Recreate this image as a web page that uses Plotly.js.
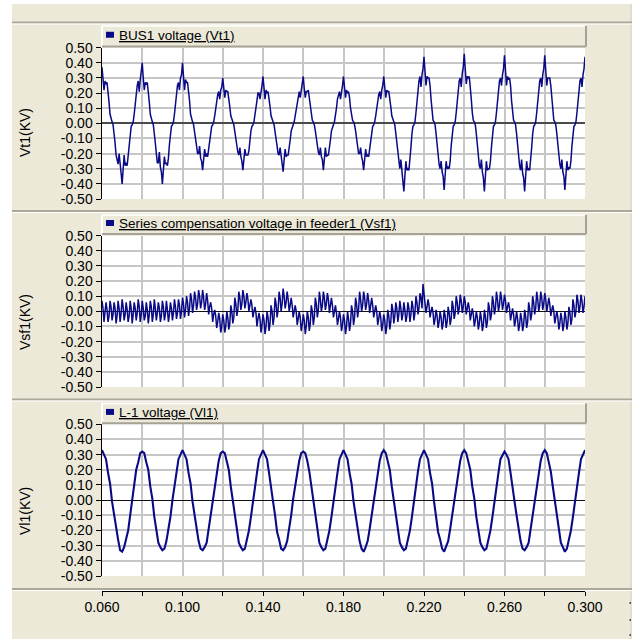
<!DOCTYPE html>
<html>
<head>
<meta charset="utf-8">
<script src="https://cdn.plot.ly/plotly-3.0.1.min.js"></script>
<style>html,body{margin:0;padding:0;background:#fff;}#chart{width:632px;height:639px;}</style>
</head>
<body>
<div id="chart"></div>
<script>
// ---------------- DATA ----------------
// sampling start (s) and steps used by the recorder
const T_START = 0.06;
const STEP_FINE = 0.0005;   // Vt1, Vsf1
const STEP_COARSE = 0.001;  // Vl1

// BUS1 voltage (Vt1) [kV], 0.060 .. 0.300 s every 0.5 ms
const vt1 = [
 0.37,0.30,0.22,0.28,0.26,0.27,0.22,0.14,0.06,0.02,
 0.01,-0.01,-0.06,-0.13,-0.21,-0.25,-0.27,-0.20,-0.30,-0.33,-0.40,-0.30,-0.21,-0.28,-0.26,-0.28,-0.22,-0.14,-0.06,-0.02,
 -0.01,0.01,0.06,0.13,0.20,0.25,0.28,0.21,0.29,0.33,0.40,0.30,0.22,0.27,0.26,0.27,0.22,0.14,0.06,0.02,
 0.01,-0.01,-0.06,-0.13,-0.20,-0.26,-0.26,-0.19,-0.29,-0.32,-0.40,-0.31,-0.22,-0.27,-0.26,-0.28,-0.23,-0.14,-0.06,-0.02,
 -0.01,0.01,0.06,0.13,0.20,0.25,0.27,0.22,0.30,0.32,0.40,0.31,0.22,0.29,0.27,0.27,0.22,0.15,0.06,0.02,
 0.01,-0.01,-0.05,-0.10,-0.15,-0.20,-0.20,-0.15,-0.23,-0.25,-0.31,-0.24,-0.17,-0.22,-0.20,-0.22,-0.17,-0.11,-0.05,-0.02,
 -0.01,0.01,0.05,0.10,0.15,0.19,0.21,0.16,0.22,0.24,0.30,0.23,0.17,0.22,0.21,0.21,0.17,0.11,0.05,0.02,
 0.01,-0.01,-0.05,-0.10,-0.16,-0.19,-0.21,-0.16,-0.22,-0.25,-0.31,-0.23,-0.17,-0.21,-0.21,-0.21,-0.18,-0.10,-0.05,-0.02,
 -0.01,0.01,0.05,0.10,0.15,0.20,0.20,0.16,0.23,0.25,0.31,0.24,0.16,0.22,0.20,0.21,0.17,0.11,0.05,0.02,
 0.01,-0.01,-0.05,-0.10,-0.15,-0.20,-0.21,-0.16,-0.23,-0.26,-0.32,-0.24,-0.17,-0.22,-0.21,-0.21,-0.17,-0.11,-0.05,-0.02,
 -0.01,0.01,0.05,0.09,0.15,0.19,0.21,0.17,0.22,0.25,0.31,0.23,0.17,0.21,0.21,0.22,0.17,0.11,0.05,0.02,
 0.01,-0.01,-0.05,-0.10,-0.15,-0.19,-0.21,-0.16,-0.22,-0.24,-0.31,-0.24,-0.16,-0.22,-0.21,-0.21,-0.17,-0.11,-0.05,-0.02,
 -0.01,0.01,0.05,0.10,0.16,0.20,0.21,0.16,0.23,0.25,0.31,0.24,0.17,0.22,0.20,0.21,0.17,0.10,0.05,0.02,
 0.01,-0.01,-0.05,-0.10,-0.15,-0.20,-0.20,-0.16,-0.22,-0.25,-0.31,-0.23,-0.17,-0.22,-0.21,-0.22,-0.17,-0.11,-0.05,-0.02,
 -0.01,0.01,0.05,0.10,0.15,0.19,0.21,0.16,0.22,0.25,0.31,0.24,0.17,0.22,0.21,0.21,0.17,0.11,0.05,0.02,
 0.01,-0.01,-0.07,-0.15,-0.22,-0.28,-0.30,-0.24,-0.32,-0.36,-0.45,-0.35,-0.25,-0.31,-0.30,-0.31,-0.25,-0.16,-0.07,-0.02,
 -0.01,0.01,0.07,0.15,0.22,0.28,0.31,0.24,0.32,0.36,0.44,0.34,0.25,0.31,0.30,0.30,0.25,0.16,0.07,0.02,
 0.01,-0.01,-0.07,-0.15,-0.22,-0.27,-0.30,-0.25,-0.32,-0.35,-0.44,-0.34,-0.25,-0.30,-0.29,-0.30,-0.25,-0.15,-0.07,-0.02,
 -0.01,0.01,0.07,0.16,0.23,0.28,0.30,0.24,0.33,0.37,0.46,0.35,0.26,0.31,0.30,0.31,0.25,0.16,0.07,0.02,
 0.01,-0.01,-0.07,-0.15,-0.22,-0.28,-0.30,-0.24,-0.32,-0.36,-0.45,-0.35,-0.25,-0.31,-0.30,-0.30,-0.25,-0.16,-0.07,-0.02,
 -0.01,0.01,0.07,0.15,0.22,0.28,0.30,0.25,0.32,0.36,0.45,0.34,0.25,0.31,0.29,0.30,0.25,0.15,0.07,0.02,
 0.01,-0.01,-0.07,-0.15,-0.22,-0.28,-0.31,-0.24,-0.33,-0.36,-0.45,-0.35,-0.25,-0.31,-0.30,-0.31,-0.25,-0.16,-0.07,-0.02,
 -0.01,0.01,0.07,0.15,0.22,0.28,0.30,0.24,0.32,0.36,0.45,0.35,0.25,0.30,0.30,0.30,0.25,0.16,0.07,0.02,
 0.01,-0.01,-0.07,-0.15,-0.22,-0.27,-0.30,-0.24,-0.32,-0.35,-0.44,-0.34,-0.25,-0.31,-0.29,-0.30,-0.25,-0.15,-0.07,-0.02,
 -0.01,0.01,0.07,0.15,0.22,0.28,0.30,0.24,0.32,0.36,0.44
];

// Series compensation voltage in feeder1 (Vsf1) [kV], 0.060 .. 0.300 s every 0.5 ms
const vsf1 = [
 0.07,0.02,-0.07,-0.02, 0.06,0.01,-0.07,-0.03, 0.07,0.03,-0.06,-0.02, 0.06,0.02,-0.08,-0.03,
 0.07,0.02,-0.07,-0.01, 0.08,0.03,-0.06,-0.02, 0.06,0.01,-0.07,-0.03, 0.07,0.02,-0.08,-0.02,
 0.06,0.02,-0.06,-0.01, 0.08,0.03,-0.07,-0.02, 0.07,0.02,-0.06,-0.03, 0.06,0.01,-0.08,-0.02,
 0.07,0.03,-0.07,-0.02, 0.08,0.02,-0.06,-0.01, 0.06,0.02,-0.07,-0.03, 0.07,0.03,-0.06,-0.02,
 0.07,0.01,-0.07,-0.02, 0.06,0.02,-0.06,-0.01, 0.08,0.03,-0.05,-0.01, 0.08,0.04,-0.05,0.00,
 0.09,0.05,-0.04,0.01, 0.10,0.06,-0.03,0.02, 0.12,0.08,-0.01,0.04, 0.13,0.09,0.01,0.05,
 0.14,0.10,0.02,0.06, 0.14,0.09,0.01,0.05, 0.12,0.07,-0.02,0.03, 0.06,0.02,-0.07,-0.02,
 0.01,-0.03,-0.11,-0.07, -0.01,-0.05,-0.14,-0.10, -0.02,-0.06,-0.14,-0.10, 0.00,-0.04,-0.12,-0.08,
 0.04,0.00,-0.08,-0.04, 0.09,0.05,-0.03,0.01, 0.13,0.09,0.01,0.05, 0.14,0.10,0.02,0.06,
 0.12,0.08,0.00,0.04, 0.08,0.04,-0.04,0.00, 0.03,-0.01,-0.10,-0.05, -0.01,-0.05,-0.14,-0.09,
 -0.02,-0.06,-0.15,-0.10, 0.00,-0.04,-0.13,-0.08, 0.04,0.00,-0.09,-0.04, 0.09,0.05,-0.04,0.01,
 0.13,0.09,0.00,0.05, 0.15,0.10,0.02,0.06, 0.13,0.08,0.00,0.04, 0.09,0.04,-0.04,0.00,
 0.04,0.00,-0.09,-0.05, 0.00,-0.04,-0.13,-0.09, -0.02,-0.06,-0.15,-0.10, 0.00,-0.04,-0.13,-0.08,
 0.04,0.00,-0.09,-0.04, 0.09,0.05,-0.04,0.01, 0.13,0.08,0.00,0.04, 0.13,0.09,0.01,0.05,
 0.12,0.08,-0.01,0.04, 0.09,0.04,-0.04,0.00, 0.04,-0.01,-0.09,-0.05, 0.00,-0.04,-0.13,-0.09,
 -0.02,-0.06,-0.15,-0.10, 0.00,-0.05,-0.13,-0.08, 0.04,0.00,-0.09,-0.04, 0.09,0.05,-0.04,0.01,
 0.13,0.08,0.00,0.04, 0.13,0.09,0.01,0.05, 0.12,0.07,-0.01,0.04, 0.09,0.04,-0.04,0.00,
 0.04,0.00,-0.09,-0.05, 0.00,-0.04,-0.13,-0.09, -0.02,-0.06,-0.15,-0.10, 0.01,-0.03,-0.12,-0.07,
 0.05,0.01,-0.08,-0.03, 0.06,0.02,-0.07,-0.02, 0.07,0.02,-0.06,-0.02, 0.06,0.01,-0.07,-0.03,
 0.06,0.02,-0.07,-0.02, 0.07,0.03,-0.06,-0.01, 0.10,0.06,-0.02,0.02, 0.12,0.09,0.02,0.18,
 0.10,0.07,-0.01,0.03, 0.08,0.04,-0.04,0.00, 0.03,-0.01,-0.09,-0.05, 0.01,-0.03,-0.11,-0.07,
 0.00,-0.04,-0.12,-0.08, 0.01,-0.03,-0.11,-0.07, 0.03,-0.01,-0.09,-0.05, 0.07,0.03,-0.05,-0.01,
 0.10,0.06,-0.02,0.02, 0.11,0.07,-0.01,0.03, 0.10,0.06,-0.02,0.02, 0.06,0.02,-0.06,-0.02,
 0.02,-0.02,-0.10,-0.06, 0.00,-0.04,-0.12,-0.08, 0.00,-0.05,-0.13,-0.09, 0.01,-0.03,-0.11,-0.07,
 0.06,0.02,-0.06,-0.02, 0.10,0.06,-0.02,0.02, 0.13,0.08,0.00,0.04, 0.13,0.09,0.01,0.05,
 0.11,0.07,-0.01,0.03, 0.06,0.02,-0.06,-0.02, 0.02,-0.02,-0.10,-0.06, 0.00,-0.05,-0.13,-0.09,
 -0.01,-0.05,-0.13,-0.09, 0.01,-0.03,-0.11,-0.07, 0.06,0.02,-0.06,-0.02, 0.10,0.06,-0.02,0.02,
 0.13,0.08,0.00,0.04, 0.13,0.09,0.01,0.05, 0.12,0.08,0.00,0.04, 0.09,0.05,-0.03,0.01,
 0.04,0.00,-0.08,-0.04, 0.00,-0.04,-0.12,-0.08, -0.01,-0.05,-0.13,-0.09, 0.00,-0.04,-0.12,-0.08,
 0.03,-0.01,-0.09,-0.05, 0.08,0.04,-0.04,0.00, 0.11,0.07,-0.01,0.03, 0.11,0.07,-0.01,0.03,
 0.10
];

// L-1 voltage (Vl1) [kV], 0.060 .. 0.300 s every 1 ms
const vl1 = [
 0.33,0.30,0.27,0.18,0.11,-0.01,-0.10,-0.20,-0.26,-0.33,-0.34,-0.31,-0.26,-0.20,-0.10,0.01,0.09,0.20,0.25,0.31,
 0.32,0.31,0.25,0.20,0.09,0.01,-0.11,-0.19,-0.28,-0.31,-0.33,-0.32,-0.27,-0.19,-0.11,0.00,0.11,0.18,0.27,0.30,
 0.33,0.30,0.27,0.18,0.11,-0.01,-0.10,-0.20,-0.27,-0.32,-0.33,-0.31,-0.28,-0.19,-0.10,0.01,0.09,0.20,0.26,0.31,
 0.32,0.31,0.25,0.20,0.09,0.00,-0.11,-0.19,-0.28,-0.31,-0.33,-0.32,-0.26,-0.20,-0.11,0.00,0.11,0.18,0.27,0.30,
 0.33,0.30,0.27,0.18,0.10,-0.01,-0.10,-0.21,-0.26,-0.32,-0.33,-0.31,-0.27,-0.19,-0.10,0.01,0.10,0.19,0.26,0.31,
 0.32,0.31,0.26,0.19,0.09,0.01,-0.11,-0.19,-0.28,-0.31,-0.33,-0.32,-0.26,-0.20,-0.11,0.00,0.11,0.18,0.27,0.30,
 0.33,0.30,0.27,0.18,0.11,-0.01,-0.10,-0.20,-0.27,-0.32,-0.34,-0.31,-0.27,-0.19,-0.10,0.01,0.09,0.20,0.26,0.31,
 0.33,0.31,0.25,0.20,0.09,0.00,-0.11,-0.19,-0.28,-0.31,-0.33,-0.32,-0.26,-0.20,-0.11,0.00,0.10,0.19,0.27,0.30,
 0.33,0.30,0.27,0.18,0.11,-0.01,-0.10,-0.21,-0.26,-0.32,-0.34,-0.31,-0.27,-0.19,-0.10,0.01,0.09,0.20,0.26,0.31,
 0.33,0.31,0.25,0.20,0.09,0.01,-0.11,-0.19,-0.28,-0.31,-0.33,-0.32,-0.26,-0.20,-0.11,0.00,0.11,0.18,0.27,0.30,
 0.32,0.30,0.27,0.18,0.10,-0.01,-0.10,-0.20,-0.27,-0.32,-0.33,-0.31,-0.28,-0.19,-0.10,0.01,0.10,0.19,0.26,0.31,
 0.33,0.31,0.25,0.19,0.09,0.00,-0.11,-0.19,-0.28,-0.31,-0.34,-0.32,-0.26,-0.20,-0.11,0.00,0.11,0.18,0.27,0.30,
 0.33
];

// axis ticks and labels
const xTickVals = [0.06,0.08,0.10,0.12,0.14,0.16,0.18,0.20,0.22,0.24,0.26,0.28,0.30];
const xTickText = ['0.060','','0.100','','0.140','','0.180','','0.220','','0.260','','0.300'];
const yTickVals = [0.5,0.4,0.3,0.2,0.1,0,-0.1,-0.2,-0.3,-0.4,-0.5];
const yTickText = ['0.50','0.40','0.30','0.20','0.10','0.00','-0.10','-0.20','-0.30','-0.40','-0.50'];

const seriesNames = ['BUS1 voltage (Vt1)', 'Series compensation voltage in feeder1 (Vsf1)', 'L-1 voltage (Vl1)'];
const axisTitles = ['Vt1(KV)', 'Vsf1(KV)', 'Vl1(KV)'];

// ---------------- BUILD ----------------
function timeGrid(n, step) {
  const t = [];
  for (let i = 0; i < n; i++) t.push(+(T_START + i * step).toFixed(5));
  return t;
}
const tFine = timeGrid(vt1.length, STEP_FINE);
const tFine2 = timeGrid(vsf1.length, STEP_FINE);
const tCoarse = timeGrid(vl1.length, STEP_COARSE);

const W = 632, H = 639;
const px = x => x / W;
const py = y => 1 - y / H;

const NAVY = '#0a0a86';
const BEIGE = '#ece9d8';
const GRID = '#c6c6c6';
const FONT = 'Arial, "Liberation Sans", sans-serif';

const traces = [
  {x: tFine, y: vt1, xaxis: 'x', yaxis: 'y', type: 'scatter', mode: 'lines', line: {color: NAVY, width: 1.5}, name: seriesNames[0], showlegend: false, hoverinfo: 'skip'},
  {x: tFine2, y: vsf1, xaxis: 'x2', yaxis: 'y2', type: 'scatter', mode: 'lines', line: {color: NAVY, width: 1.5}, name: seriesNames[1], showlegend: false, hoverinfo: 'skip'},
  {x: tCoarse, y: vl1, xaxis: 'x3', yaxis: 'y3', type: 'scatter', mode: 'lines', line: {color: NAVY, width: 2.1}, name: seriesNames[2], showlegend: false, hoverinfo: 'skip'}
];

// panel pixel geometry: [plotTop, plotBottom, legendTop, legendBottom, titleCenterY]
const panels = [
  [47.7, 199, 26, 46.5, 133],
  [235.7, 387, 215, 234, 322],
  [424.3, 576, 403.5, 423.3, 511]
];
const X_LEFT = 102, X_RIGHT = 585;

function yAxis(i, anchor) {
  return {
    domain: [py(panels[i][1]), py(panels[i][0])],
    anchor: anchor,
    range: [-0.5, 0.5],
    tickmode: 'array', tickvals: yTickVals, ticktext: yTickText,
    showgrid: true, gridcolor: GRID, gridwidth: 2,
    zeroline: true, zerolinecolor: i === 0 ? '#4a4a4a' : '#111111', zerolinewidth: i === 0 ? 2 : 1.3,
    showline: true, linecolor: '#000', linewidth: 1.5,
    ticks: 'outside', ticklen: 5, tickcolor: '#000', tickwidth: 1,
    tickfont: {family: FONT, size: 14, color: '#000'},
    fixedrange: true
  };
}
function xAxis(anchor, showLabels) {
  const a = {
    domain: [px(X_LEFT), px(X_RIGHT)],
    anchor: anchor,
    range: [0.06, 0.30],
    tickmode: 'array', tickvals: xTickVals, ticktext: xTickText,
    showgrid: true, gridcolor: GRID, gridwidth: 2,
    zeroline: false,
    showticklabels: false, ticks: '', showline: false,
    fixedrange: true
  };
  if (showLabels) {
    a.anchor = 'free';
    a.position = py(590.5);
    a.showticklabels = true;
    a.ticks = 'outside'; a.ticklen = 4; a.tickcolor = '#000';
    a.showline = true; a.linecolor = '#000'; a.linewidth = 1;
    a.tickfont = {family: FONT, size: 14, color: '#000'};
  }
  return a;
}

const shapes = [];
const annotations = [];
// white outer margins
shapes.push({type: 'rect', xref: 'paper', yref: 'paper', x0: 0, x1: px(12), y0: 0, y1: 1, fillcolor: '#fff', line: {width: 0}, layer: 'below'});
shapes.push({type: 'rect', xref: 'paper', yref: 'paper', x0: 0, x1: 1, y0: py(4), y1: 1, fillcolor: '#fff', line: {width: 0}, layer: 'below'});
shapes.push({type: 'line', xref: 'paper', yref: 'paper', x0: px(631), x1: px(631), y0: py(4), y1: 0, line: {color: '#d6d2c2', width: 1}});
// horizontal separators (3D)
[22.5, 211, 399.5, 589].forEach(y => {
  shapes.push({type: 'line', xref: 'paper', yref: 'paper', x0: px(12), x1: 1, y0: py(y), y1: py(y), line: {color: '#aca899', width: 2}});
  shapes.push({type: 'line', xref: 'paper', yref: 'paper', x0: px(12), x1: 1, y0: py(y + 1.5), y1: py(y + 1.5), line: {color: '#ffffff', width: 1}});
});
// legend header bars
panels.forEach((p, i) => {
  const top = p[2], bot = p[3];
  shapes.push({type: 'line', xref: 'paper', yref: 'paper', x0: px(X_LEFT), x1: px(X_RIGHT), y0: py(top), y1: py(top), line: {color: '#ffffff', width: 1.5}});
  shapes.push({type: 'line', xref: 'paper', yref: 'paper', x0: px(X_LEFT), x1: px(X_LEFT), y0: py(top), y1: py(p[0]), line: {color: '#ffffff', width: 2}});
  shapes.push({type: 'line', xref: 'paper', yref: 'paper', x0: px(X_LEFT), x1: px(X_RIGHT + 1), y0: py(bot), y1: py(bot), line: {color: '#a6a296', width: 2}});
  shapes.push({type: 'line', xref: 'paper', yref: 'paper', x0: px(X_RIGHT + 1), x1: px(X_RIGHT + 1), y0: py(top), y1: py(bot), line: {color: '#a6a296', width: 2}});
  const mid = (top + bot) / 2;
  shapes.push({type: 'rect', xref: 'paper', yref: 'paper', x0: px(106), x1: px(114), y0: py(mid - 4.5), y1: py(mid + 1.5), fillcolor: NAVY, line: {width: 0}});
  annotations.push({xref: 'paper', yref: 'paper', x: px(117), y: py(mid - 0.5), xanchor: 'left', yanchor: 'middle', showarrow: false,
    text: '<u>' + seriesNames[i] + '</u>', font: {family: FONT, size: 13.5, color: '#000'}});
  annotations.push({xref: 'paper', yref: 'paper', x: px(25), y: py(p[4]), xanchor: 'center', yanchor: 'middle', showarrow: false,
    textangle: -90, text: axisTitles[i], font: {family: FONT, size: 14, color: '#000'}});
});
// small dots at bottom-right
[603, 620, 635].forEach(y => {
  shapes.push({type: 'rect', xref: 'paper', yref: 'paper', x0: px(629.5), x1: px(631), y0: py(y + 0.75), y1: py(y - 0.75), fillcolor: '#222', line: {width: 0}});
});

const layout = {
  width: W, height: H,
  margin: {l: 0, r: 0, t: 0, b: 0, pad: 0},
  paper_bgcolor: BEIGE,
  plot_bgcolor: '#ffffff',
  showlegend: false,
  font: {family: FONT, size: 14, color: '#000'},
  xaxis: xAxis('y', false),
  xaxis2: xAxis('y2', false),
  xaxis3: xAxis('y3', true),
  yaxis: yAxis(0, 'x'),
  yaxis2: yAxis(1, 'x2'),
  yaxis3: yAxis(2, 'x3'),
  shapes: shapes,
  annotations: annotations
};

Plotly.newPlot('chart', traces, layout, {displayModeBar: false, staticPlot: true});
</script>
</body>
</html>
